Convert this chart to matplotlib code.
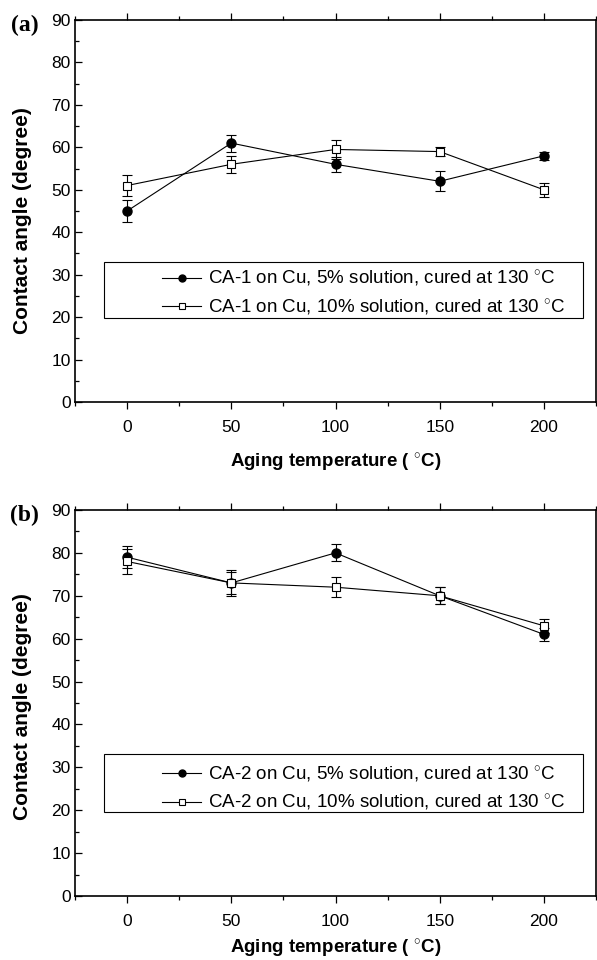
import matplotlib
matplotlib.use("Agg")
import matplotlib.pyplot as plt
from matplotlib.lines import Line2D
from matplotlib.patches import Rectangle
from matplotlib.ticker import MultipleLocator

plt.rcParams['font.family'] = ['Liberation Sans', 'DejaVu Sans']
plt.rcParams['mathtext.fontset'] = 'custom'
plt.rcParams['mathtext.rm'] = 'Liberation Sans'
plt.rcParams['mathtext.it'] = 'Liberation Sans'
plt.rcParams['mathtext.bf'] = 'Liberation Sans:bold'

# Aging temperatures (°C)
temps = [0, 50, 100, 150, 200]

# Panel (a): CA-1 on Cu
ca1_5 = [45, 61, 56, 52, 58]
ca1_5_err = [2.5, 2.0, 1.7, 2.4, 1.0]
ca1_10 = [51, 56, 59.5, 59, 50]
ca1_10_err = [2.5, 2.0, 2.2, 1.0, 1.6]

# Panel (b): CA-2 on Cu
ca2_5 = [79, 73, 80, 70, 61]
ca2_5_err = [2.5, 3.0, 2.0, 2.0, 1.5]
ca2_10 = [78, 73, 72, 70, 63]
ca2_10_err = [3.0, 2.5, 2.4, 2.0, 1.7]

labels_a = [r'CA-1 on Cu, 5% solution, cured at 130 $^{\circ}$C',
            r'CA-1 on Cu, 10% solution, cured at 130 $^{\circ}$C']
labels_b = [r'CA-2 on Cu, 5% solution, cured at 130 $^{\circ}$C',
            r'CA-2 on Cu, 10% solution, cured at 130 $^{\circ}$C']
panel_tags = ['(a)', '(b)']

W, H = 597, 960
fig = plt.figure(figsize=(W / 100, H / 100), dpi=100)

ax_a = fig.add_axes([75 / W, 1 - 402 / H, 521 / W, 382 / H])
ax_b = fig.add_axes([75 / W, 1 - 896 / H, 521 / W, 386 / H])

panels = [
    (ax_a, ca1_5, ca1_5_err, ca1_10, ca1_10_err, labels_a, panel_tags[0],
     0.474, 12, 25.6),
    (ax_b, ca2_5, ca2_5_err, ca2_10, ca2_10_err, labels_b, panel_tags[1],
     0.49, 6, 25.0),
]

for ax, y5, e5, y10, e10, labels, tag, ylab_y, xlab_pad, leg_y in panels:
    ax.errorbar(temps, y5, yerr=e5, color='black', lw=0.8,
                marker='o', ms=6.5, mfc='black', mec='black',
                ecolor='black', elinewidth=0.8, capsize=3.5, capthick=0.8,
                zorder=3)
    ax.errorbar(temps, y10, yerr=e10, color='black', lw=0.8,
                marker='s', ms=6, mfc='white', mec='black', mew=0.8,
                ecolor='black', elinewidth=0.8, capsize=3.5, capthick=0.8,
                zorder=3)

    ax.set_xlim(-25, 225)
    ax.set_ylim(0, 90)
    ax.xaxis.set_major_locator(MultipleLocator(50))
    ax.xaxis.set_minor_locator(MultipleLocator(25))
    ax.yaxis.set_major_locator(MultipleLocator(10))
    ax.yaxis.set_minor_locator(MultipleLocator(5))
    ax.tick_params(axis='both', which='major', labelsize=12.5, length=5,
                   width=0.9, direction='out', pad=3)
    ax.tick_params(axis='both', which='minor', length=3, width=0.9,
                   direction='out')
    ax.tick_params(axis='x', which='major', pad=8)
    ax.tick_params(top=True, which='both', direction='in')
    ax.tick_params(axis='x', which='both', bottom=True, direction='out')
    for s in ax.spines.values():
        s.set_linewidth(1.2)

    ax.set_xlabel(r'Aging temperature ( $^{\circ}$C)', fontsize=13.5,
                  fontweight='bold', labelpad=xlab_pad)
    ax.set_ylabel('Contact angle (degree)', fontsize=15, fontweight='bold')
    ax.yaxis.set_label_coords(-0.083, ylab_y)

    # legend frame drawn wider than its entries
    ax.add_patch(Rectangle((-11, 19.7), 230, 13.3, transform=ax.transData,
                           facecolor='white', edgecolor='black', lw=0.8,
                           zorder=4))
    handles = [
        Line2D([], [], color='black', lw=0.8, marker='o', ms=5,
               mfc='black', mec='black'),
        Line2D([], [], color='black', lw=0.8, marker='s', ms=4.5,
               mfc='white', mec='black', mew=0.8),
    ]
    leg = ax.legend(handles=handles, labels=labels, loc='center left',
                    bbox_to_anchor=(16.7, leg_y), bbox_transform=ax.transData,
                    frameon=False, fontsize=13.5, handlelength=2.1,
                    handletextpad=0.35, labelspacing=0.45, borderpad=0,
                    borderaxespad=0)
    leg.set_zorder(5)

    ax.text(-0.069, 0.985, tag, transform=ax.transAxes, ha='right',
            va='center', fontsize=17, fontweight='bold',
            family='Liberation Serif')

fig.savefig('out.png', dpi=100)
